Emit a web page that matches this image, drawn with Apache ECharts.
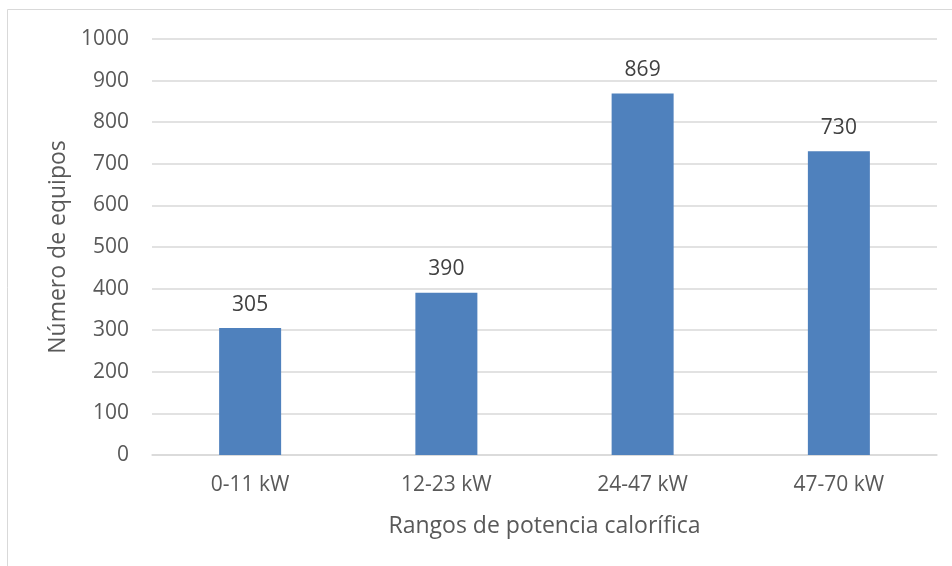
<!DOCTYPE html>
<html>
<head>
<meta charset="utf-8">
<script src="https://cdn.jsdelivr.net/npm/echarts@6/dist/echarts.min.js"></script>
<style>
  html, body { margin: 0; padding: 0; background: #ffffff; }
  #chart { width: 952px; height: 566px; }
</style>
</head>
<body>
<div id="chart"></div>
<script>
// Potencia calorífica: número de equipos por rango
const categories = ['0-11 kW', '12-23 kW', '24-47 kW', '47-70 kW'];
const equipos = [305, 390, 869, 730];
const yTicks = { min: 0, max: 1000, interval: 100 };

const FONT = '"Open Sans", "Noto Sans", sans-serif';

const chart = echarts.init(document.getElementById('chart'), null, { renderer: 'canvas' });

chart.setOption({
  backgroundColor: '#ffffff',
  animation: false,
  textStyle: { fontFamily: FONT },
  graphic: [
    {
      type: 'polyline',
      shape: { points: [[7.5, 566], [7.5, 9.5], [952, 9.5]] },
      style: { stroke: '#d9d9d9', lineWidth: 1, fill: null },
      silent: true
    }
  ],
  grid: { left: 152, right: 15, top: 39, bottom: 111, containLabel: false },
  xAxis: {
    type: 'category',
    data: categories,
    axisLine: { show: true, lineStyle: { color: '#d9d9d9', width: 1.5 } },
    axisTick: { show: false },
    axisLabel: { color: '#595959', fontSize: 21, fontFamily: FONT, margin: 20 },
    name: 'Rangos de potencia calorífica',
    nameLocation: 'middle',
    nameGap: 60,
    nameTextStyle: { color: '#595959', fontSize: 23, fontFamily: FONT }
  },
  yAxis: {
    type: 'value',
    min: yTicks.min,
    max: yTicks.max,
    interval: yTicks.interval,
    axisLine: { show: false },
    axisTick: { show: false },
    splitLine: { lineStyle: { color: '#d9d9d9', width: 1.5 } },
    axisLabel: {
      color: '#595959', fontSize: 21, fontFamily: FONT, margin: 23,
      formatter: (v) => String(v)
    },
    name: 'Número de equipos',
    nameLocation: 'middle',
    nameGap: 79,
    nameRotate: 90,
    nameTextStyle: { color: '#595959', fontSize: 23, fontFamily: FONT }
  },
  series: [{
    type: 'bar',
    data: equipos,
    barWidth: 62,
    itemStyle: { color: '#4f81bd' },
    label: {
      show: true,
      position: 'top',
      distance: 13,
      color: '#404040',
      fontSize: 21,
      fontFamily: FONT
    }
  }]
});
</script>
</body>
</html>
